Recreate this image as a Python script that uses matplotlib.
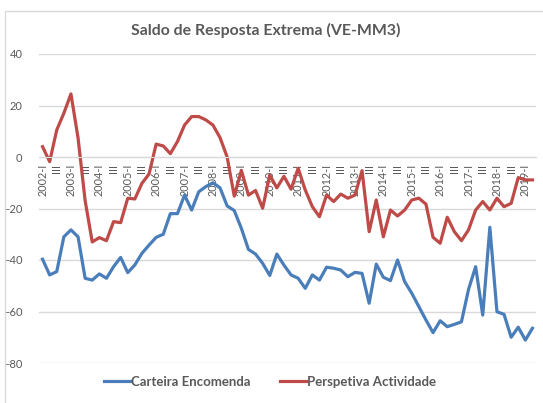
import matplotlib
matplotlib.use('Agg')
import matplotlib.pyplot as plt
from matplotlib.patches import Rectangle

plt.rcParams['font.family'] = ['Lato', 'DejaVu Sans']

# quarters 2002-I .. 2019-II
YEARS = list(range(2002, 2020))
QUARTERS = ['I', 'II', 'III', 'IV']

carteira_encomenda = [
    -39.7, -45.8, -44.5, -31.0, -28.3, -31.0, -47.1, -47.8, -45.4, -47.1,
    -42.6, -39.0, -44.9, -41.9, -37.4, -34.2, -31.2, -30.0, -22.0, -22.0,
    -14.8, -20.6, -13.5, -11.5, -10.0, -12.0, -19.0, -20.8, -27.7, -35.9,
    -37.7, -41.3, -46.0, -37.7, -42.0, -45.8, -47.1, -51.0, -45.8, -47.8,
    -42.8, -43.2, -43.9, -46.5, -44.8, -45.2, -56.8, -41.6, -46.7, -48.0,
    -40.0, -48.4, -52.9, -58.1, -63.3, -68.2, -63.6, -65.9, -65.0, -64.0,
    -51.4, -42.6, -61.4, -27.3, -60.1, -61.1, -70.0, -66.1, -71.1, -66.5,
]

perspetiva_actividade = [
    4.0, -1.8, 10.5, 17.0, 24.5, 7.4, -17.0, -33.0, -31.3, -32.5,
    -25.1, -25.5, -16.0, -16.3, -10.2, -6.6, 5.0, 4.3, 1.3, 6.0,
    12.4, 15.7, 15.7, 14.4, 12.4, 7.5, 0.0, -15.2, -5.2, -14.8,
    -13.0, -19.9, -7.0, -12.0, -7.5, -12.5, -4.4, -12.8, -19.3, -23.2,
    -14.8, -17.3, -14.4, -16.0, -14.8, -5.3, -29.0, -16.7, -31.0, -20.6,
    -22.9, -20.6, -16.7, -16.0, -18.3, -31.2, -33.5, -23.4, -29.0, -32.5,
    -28.3, -20.6, -17.3, -20.6, -16.0, -19.3, -18.0, -8.0, -8.9, -8.9,
]

Y_TICKS = [40, 20, 0, -20, -40, -60, -80]

BLUE = '#4A7EBB'
RED = '#BE4B48'
TEXT = '#595959'
GRID = '#D9D9D9'


def quarter_labels(n):
    labels = []
    for i in range(n):
        year = YEARS[i // 4]
        q = QUARTERS[i % 4]
        labels.append(f'{year}-{q}' if q == 'I' else q)
    return labels


def main():
    n = len(carteira_encomenda)
    x = list(range(n))
    labels = quarter_labels(n)

    fig = plt.figure(figsize=(5.43, 4.03), dpi=100)
    # chart frame (cut at right/bottom like the screenshot)
    fig.patches.append(Rectangle((5 / 543, -0.1), 1.0, 1 - 11 / 403 + 0.1,
                                 transform=fig.transFigure, fill=False,
                                 edgecolor='#D9D9D9', linewidth=1))

    ax = fig.add_axes([39 / 543, 40 / 403, 497 / 543, 309 / 403])

    ax.plot(x, carteira_encomenda, color=BLUE, linewidth=2.3,
            label='Carteira Encomenda', solid_joinstyle='round')
    ax.plot(x, perspetiva_actividade, color=RED, linewidth=2.3,
            label='Perspetiva Actividade', solid_joinstyle='round')

    ax.set_xlim(-0.5, n - 0.5)
    ax.set_ylim(-80, 40)
    ax.set_yticks(Y_TICKS)
    ax.grid(axis='y', color=GRID, linewidth=1)
    ax.set_axisbelow(True)

    for side in ['top', 'right', 'left']:
        ax.spines[side].set_visible(False)
    ax.spines['bottom'].set_position(('data', 0))
    ax.spines['bottom'].set_color(GRID)

    ax.set_xticks(x[::2])
    ax.set_xticklabels(labels[::2], rotation=90, va='top', ha='center')
    ax.tick_params(axis='x', length=0, pad=5, labelsize=7.8, labelcolor=TEXT)
    ax.tick_params(axis='y', length=0, pad=12, labelsize=8, labelcolor=TEXT)

    fig.text(266 / 543, 1 - 30 / 403, 'Saldo de Resposta Extrema (VE-MM3)',
             ha='center', va='center', fontsize=11.4, fontweight='bold', color=TEXT)

    leg = fig.legend(loc='center', bbox_to_anchor=(270 / 543, 1 - 382 / 403), ncol=2,
                     frameon=False, handlelength=2.0, columnspacing=2.2,
                     handletextpad=0.1, prop={'size': 9.5, 'weight': 'bold'})
    for t in leg.get_texts():
        t.set_color(TEXT)

    fig.savefig('out.png', dpi=100)


if __name__ == '__main__':
    main()
